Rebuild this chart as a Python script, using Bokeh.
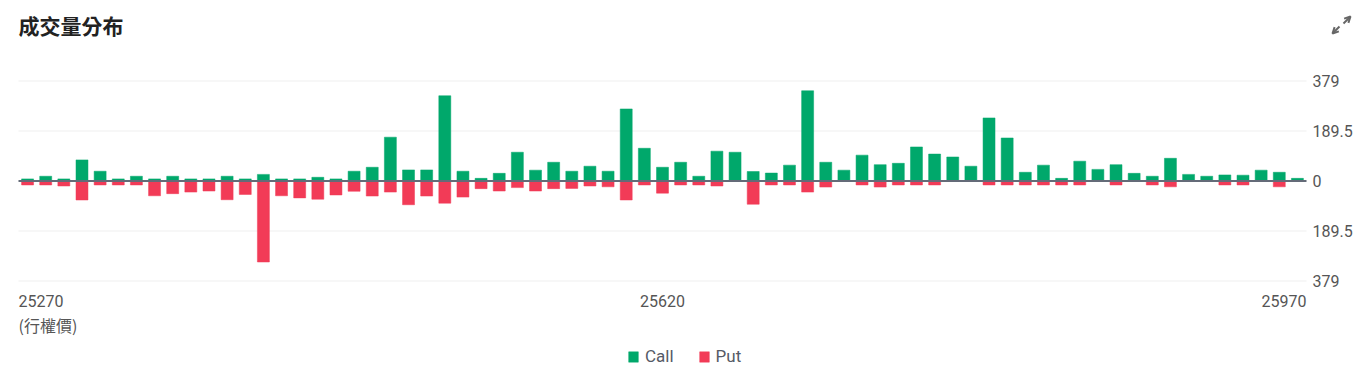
from bokeh.plotting import figure
from bokeh.models import (ColumnDataSource, Label, Legend, LegendItem, Range1d, Arrow, OpenHead)
from bokeh.embed import file_html
from bokeh.resources import INLINE

strikes = list(range(25270, 25980, 10))
call_vol = [8, 18, 8, 80, 37, 8, 18, 8, 18, 8,
            8, 18, 8, 25, 8, 8, 14, 8, 37, 52,
            166, 42, 42, 323, 37, 10, 29, 109, 41, 71,
            37, 56, 37, 273, 124, 52, 71, 18, 113, 109,
            36, 30, 60, 342, 71, 41, 98, 62, 67, 129,
            102, 91, 56, 239, 163, 33, 60, 10, 75, 44,
            62, 29, 18, 86, 25, 18, 23, 22, 41, 33, 10]
put_vol = [15, 15, 19, 72, 15, 15, 15, 56, 48, 42,
           38, 71, 51, 307, 56, 64, 69, 53, 39, 57,
           42, 90, 57, 84, 61, 29, 38, 25, 38, 29,
           28, 19, 22, 72, 15, 46, 15, 15, 19, 0,
           88, 15, 15, 42, 23, 0, 15, 23, 15, 15,
           15, 0, 0, 15, 15, 15, 15, 15, 15, 0,
           15, 0, 15, 22, 0, 0, 15, 15, 0, 22, 0]
y_max = 379
y_ticks = [-379, -189.5, 0, 189.5, 379]
y_tick_labels = ["379", "189.5", "0", "189.5", "379"]
x_tick_labels = [25270, 25620, 25970]
title_text = "成交量分布"
x_unit = "(行權價)"

GREEN = "#00a86b"
RED = "#f23b57"
TXT = "#555555"

W, H = 1355, 369
# plot-area geometry (pixels on the canvas, from the top-left)
PL, PR, PT, PB = 18, 1306, 80.5, 280.5

step = strikes[1] - strikes[0]
x_lo, x_hi = strikes[0] - step / 2, strikes[-1] + step / 2
kx = (PR - PL) / (x_hi - x_lo)
ky = (PB - PT) / (2 * y_max)

p = figure(width=W, height=H, output_backend="svg", toolbar_location=None,
           x_axis_location=None, y_axis_location=None,
           x_range=Range1d(x_lo - PL / kx, x_hi + (W - PR) / kx),
           y_range=Range1d(-y_max - (H - PB) / ky, y_max + PT / ky),
           min_border=0)
p.outline_line_color = None
p.background_fill_color = "white"
p.border_fill_color = "white"
p.xgrid.visible = False
p.ygrid.visible = False

# grid lines
grid_y = [t for t in y_ticks if t != 0]
p.segment(x0=[x_lo] * len(grid_y), x1=[x_hi] * len(grid_y), y0=grid_y, y1=grid_y,
          line_color="#efefef", line_width=1)

src = ColumnDataSource(dict(x=strikes, call=call_vol, put=[-v for v in put_vol]))
r_call = p.vbar(x="x", top="call", bottom=0, width=step * 0.66, source=src,
                fill_color=GREEN, line_color=GREEN, line_alpha=0.5)
r_put = p.vbar(x="x", top=0, bottom="put", width=step * 0.66, source=src,
               fill_color=RED, line_color=RED, line_alpha=0.5)

# zero line
p.segment(x0=[x_lo], x1=[x_hi], y0=[0], y1=[0], line_color="#646b78", line_width=2)

# y tick labels (right side)
for t, lab in zip(y_ticks, y_tick_labels):
    p.add_layout(Label(x=PR + 6, y=t, x_units="screen", y_units="data", text=lab,
                       text_align="left", text_baseline="middle", text_font="Roboto",
                       text_font_size="16px", text_color=TXT))

# x tick labels (ends kept inside the plot width)
aligns = ["left", "center", "right"]
xs = [x_lo, x_tick_labels[1], x_hi]
for xv, lab, al in zip(xs, x_tick_labels, aligns):
    p.add_layout(Label(x=xv, y=H - 300, x_units="data", y_units="screen", text=str(lab),
                       text_align=al, text_baseline="middle", text_font="Roboto",
                       text_font_size="16px", text_color=TXT))
p.add_layout(Label(x=PL, y=H - 324, x_units="screen", y_units="screen", text=x_unit,
                   text_align="left", text_baseline="middle", text_font="Noto Sans CJK TC",
                   text_font_size="16px", text_color=TXT))

# title
p.add_layout(Label(x=PL, y=H - 24, x_units="screen", y_units="screen", text=title_text,
                   text_align="left", text_baseline="middle", text_font="Noto Sans CJK TC",
                   text_font_size="21px", text_font_style="bold", text_color="#222222"))

# expand icon (two small diagonal arrows)
for (xs_, ys_, xe_, ye_) in [(1343, H - 23, 1350, H - 16), (1339, H - 26, 1332, H - 33)]:
    p.add_layout(Arrow(x_start=xs_, y_start=ys_, x_end=xe_, y_end=ye_,
                       start_units="screen", end_units="screen",
                       line_color="#666666", line_width=2,
                       end=OpenHead(size=6, line_color="#666666", line_width=2)))

legend = Legend(items=[LegendItem(label="Call", renderers=[r_call]),
                       LegendItem(label="Put", renderers=[r_put])],
                orientation="horizontal", location=(627, 3),
                padding=0, margin=0, spacing=24, border_line_color=None,
                background_fill_alpha=0, glyph_width=12, glyph_height=13,
                label_text_font="Roboto", label_text_font_size="17px",
                label_text_color="#555a66", label_standoff=6, label_height=13)
p.add_layout(legend)

open("out.html", "w").write(file_html(p, INLINE))
